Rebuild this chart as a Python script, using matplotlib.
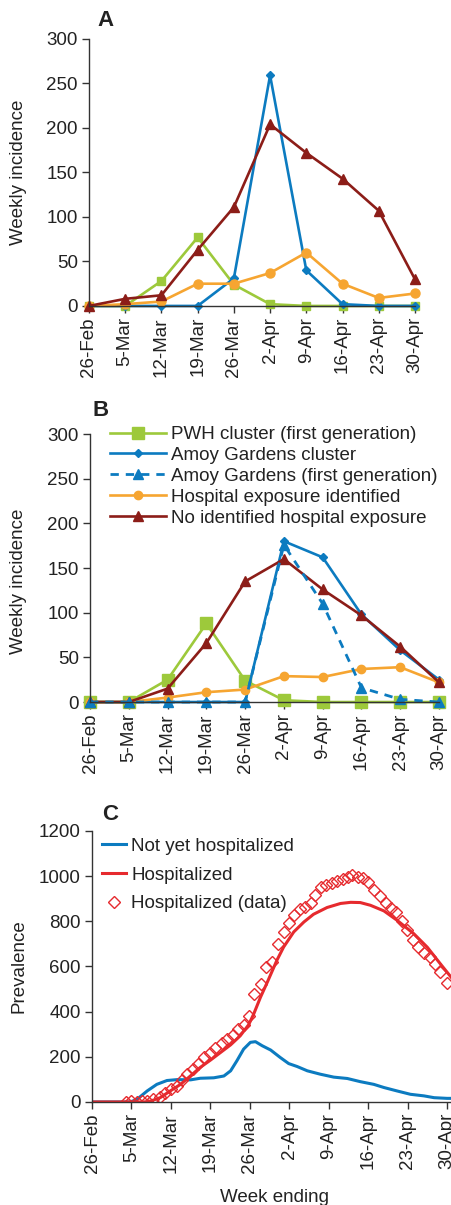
import numpy as np
import matplotlib
import matplotlib.pyplot as plt

matplotlib.use('Agg')  # no display available

plt.rcParams['font.family'] = ['Liberation Sans', 'DejaVu Sans']

# Week-ending labels and their offset in days from 26-Feb
week_labels = ['26-Feb', '5-Mar', '12-Mar', '19-Mar', '26-Mar',
               '2-Apr', '9-Apr', '16-Apr', '23-Apr', '30-Apr']
week_days = [0, 7, 14, 21, 28, 35, 42, 49, 56, 63]

# Panel A - weekly incidence
a_pwh = [0, 0, 28, 77, 24, 2, 0, 0, 0, 0]
a_amoy = [0, 0, 0, 0, 31, 259, 40, 2, 0, 0]
a_hosp = [0, 2, 5, 25, 25, 37, 60, 25, 9, 14]
a_nohosp = [0, 8, 12, 63, 111, 204, 172, 143, 107, 30]

# Panel B - weekly incidence
b_pwh = [0, 0, 25, 88, 24, 2, 0, 0, 0, 0]
b_amoy = [0, 0, 0, 0, 0, 180, 162, 98, 58, 25]
b_amoy_first = [0, 0, 0, 0, 0, 176, 110, 16, 3, 0]
b_hosp = [0, 0, 5, 11, 14, 29, 28, 37, 39, 22]
b_nohosp = [0, 0, 15, 66, 135, 160, 126, 97, 62, 22]

# Panel C - prevalence (model curves)
c_notyet_day = [0, 6.8, 8.0, 9.8, 11.5, 13.3, 15.1, 17.5, 19.2, 21.6, 23.4, 24.6,
                25.7, 26.9, 28.1, 29.0, 30.2, 31.7, 33.4, 34.9, 36.4, 38.2, 40.5,
                42.9, 45.3, 47.6, 50.0, 51.8, 54.1, 56.5, 58.9, 60.7, 63.0, 63.8]
c_notyet = [0, 0, 12, 49, 78, 95, 99, 98, 105, 107, 115, 138,
            182, 234, 264, 267, 249, 230, 197, 170, 157, 138, 123,
            110, 104, 90, 78, 64, 49, 34, 27, 19, 16, 16]
c_hosp_day = [0, 9.2, 10.4, 12.1, 13.9, 15.7, 17.5, 19.2, 21.0, 22.8, 24.6, 26.3,
              27.8, 28.7, 29.9, 31.1, 32.8, 34.0, 35.8, 37.6, 39.3, 41.7, 44.1,
              45.9, 47.6, 49.4, 51.8, 54.1, 57.1, 59.5, 61.8, 63.8]
c_hosp = [0, 0, 4, 19, 49, 78, 116, 153, 185, 219, 253, 293,
          342, 390, 464, 530, 627, 686, 753, 797, 831, 861, 879,
          884, 883, 871, 846, 805, 745, 685, 612, 550]

# Panel C - hospitalized (data)
c_data_day = [6.1, 7.0, 7.9, 8.9, 9.8, 10.8, 12.0, 12.9, 14.1, 15.0, 16.0, 16.9,
              17.9, 18.8, 19.9, 21.0, 21.9, 23.0, 24.0, 25.0, 25.9, 26.9, 27.8,
              28.8, 29.9, 30.9, 32.0, 33.0, 34.0, 34.9, 35.8, 36.9, 37.8, 38.8,
              39.6, 40.7, 41.6, 42.5, 43.5, 44.5, 45.4, 46.2, 47.2, 48.1, 49.0,
              50.0, 51.1, 52.1, 53.0, 54.0, 55.0, 55.9, 56.9, 57.9, 58.9, 59.9,
              60.9, 61.8, 63.0]
c_data = [0, 4, 0, 4, 4, 15, 22, 40, 59, 69, 99, 126,
          148, 170, 200, 217, 239, 263, 281, 298, 321, 343, 381,
          477, 524, 596, 621, 699, 754, 791, 828, 853, 865, 879,
          916, 950, 961, 971, 980, 986, 995, 1003, 995, 990, 972,
          938, 912, 879, 857, 842, 801, 761, 717, 687, 658, 643,
          613, 576, 528]

GREEN = '#9DC93B'
BLUE = '#0C7BC0'
ORANGE = '#F6A531'
BROWN = '#8C1D18'
RED = '#E62A2E'
AXIS = '#333333'
TEXT = '#222222'
FS = 13.5


def style_axis(ax, xmax, ymax, ystep):
    for side in ['top', 'right']:
        ax.spines[side].set_visible(False)
    for side in ['left', 'bottom']:
        ax.spines[side].set_linewidth(1.0)
        ax.spines[side].set_color(AXIS)
    ax.set_xlim(0, xmax)
    ax.set_ylim(0, ymax)
    ax.set_xticks(week_days)
    ax.set_xticklabels(week_labels, rotation=90)
    ax.set_yticks(np.arange(0, ymax + 1, ystep))
    ax.tick_params(direction='out', length=5, width=1.0, color=AXIS,
                   labelsize=FS, labelcolor=TEXT, pad=3)


fig = plt.figure(figsize=(4.51, 12.05), dpi=100)

# ---- Panel A ----
ax_a = fig.add_axes([0.1973, 0.7461, 0.7228, 0.2216])
ax_a.plot(week_days, a_pwh, color=GREEN, lw=1.9, marker='s', ms=6, clip_on=False)
ax_a.plot(week_days, a_amoy, color=BLUE, lw=1.9, marker='D', ms=4.5, clip_on=False)
ax_a.plot(week_days, a_hosp, color=ORANGE, lw=1.9, marker='o', ms=6.5, clip_on=False)
ax_a.plot(week_days, a_nohosp, color=BROWN, lw=1.9, marker='^', ms=7, clip_on=False)
style_axis(ax_a, 63, 300, 50)
ax_a.set_ylabel('Weekly incidence', fontsize=FS, color=TEXT)
ax_a.yaxis.set_label_coords(-0.19, 0.5)

# ---- Panel B ----
ax_b = fig.add_axes([0.1996, 0.4174, 0.7738, 0.2224])
ax_b.plot(week_days, b_pwh, color=GREEN, lw=1.9, marker='s', ms=8, clip_on=False,
          label='PWH cluster (first generation)')
ax_b.plot(week_days, b_amoy, color=BLUE, lw=1.9, marker='D', ms=4, clip_on=False,
          label='Amoy Gardens cluster')
ax_b.plot(week_days, b_amoy_first, color=BLUE, lw=2.0, ls=(0, (3, 2.5)), marker='^',
          ms=6.5, clip_on=False, zorder=2.5, label='Amoy Gardens (first generation)')
ax_b.plot(week_days, b_hosp, color=ORANGE, lw=1.9, marker='o', ms=6, clip_on=False,
          label='Hospital exposure identified')
ax_b.plot(week_days, b_nohosp, color=BROWN, lw=1.9, marker='^', ms=7, clip_on=False,
          label='No identified hospital exposure')
style_axis(ax_b, 63, 300, 50)
ax_b.set_ylabel('Weekly incidence', fontsize=FS, color=TEXT)
ax_b.yaxis.set_label_coords(-0.18, 0.45)
leg_b = ax_b.legend(loc='upper left', bbox_to_anchor=(0.057, 1.03), frameon=False,
                    fontsize=FS, handlelength=3.0, handletextpad=0.25,
                    labelspacing=0.2, borderpad=0, borderaxespad=0)
for t in leg_b.get_texts():
    t.set_color(TEXT)

# ---- Panel C ----
ax_c = fig.add_axes([0.2040, 0.0855, 0.796, 0.2249])
ax_c.plot(c_notyet_day, c_notyet, color=BLUE, lw=2.2, label='Not yet hospitalized')
ax_c.plot(c_hosp_day, c_hosp, color=RED, lw=2.2, label='Hospitalized')
ax_c.plot(c_data_day, c_data, ls='none', marker='D', ms=6, mfc='none', mec=RED,
          mew=1.0, label='Hospitalized (data)')
style_axis(ax_c, 63.7, 1200, 200)
ax_c.set_ylabel('Prevalence', fontsize=FS, color=TEXT)
ax_c.yaxis.set_label_coords(-0.181, 0.5)
leg_c = ax_c.legend(loc='upper left', bbox_to_anchor=(0.028, 0.975), frameon=False,
                    fontsize=FS, handlelength=1.3, handletextpad=0.25,
                    labelspacing=0.62, borderpad=0, borderaxespad=0)
for t in leg_c.get_texts():
    t.set_color(TEXT)

fig.text(275 / 451, 1 - 1197 / 1205, 'Week ending', fontsize=FS, color=TEXT,
         ha='center', va='center')

# Panel letters
fig.text(97 / 451, 1 - 20 / 1205, 'A', fontsize=16, fontweight='bold', color=TEXT, va='center')
fig.text(92 / 451, 1 - 411 / 1205, 'B', fontsize=16, fontweight='bold', color=TEXT, va='center')
fig.text(102 / 451, 1 - 815 / 1205, 'C', fontsize=16, fontweight='bold', color=TEXT, va='center')

fig.savefig('out.png', dpi=100)
